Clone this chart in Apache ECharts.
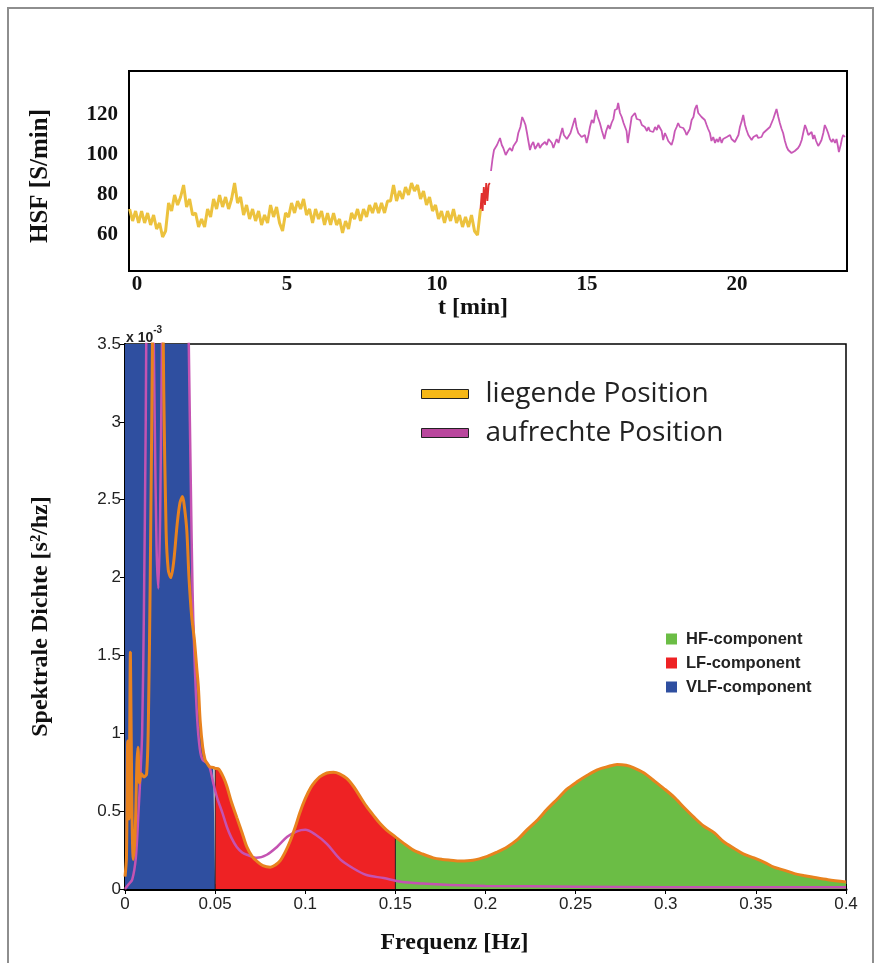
<!DOCTYPE html>
<html>
<head>
<meta charset="utf-8">
<script src="https://cdn.jsdelivr.net/npm/echarts@6/dist/echarts.min.js"></script>
<style>
  html, body { margin: 0; padding: 0; background: #fff; }
  #chart { width: 874px; height: 963px; }
</style>
</head>
<body>
<div id="chart"></div>
<script>
// ---- Heart rate (HSF) over time, upper panel ----
const hsfTicksT = [0, 5, 10, 15, 20];
const hsfTicksY = [60, 80, 100, 120];

// lying position: uniformly sampled, start time and step in minutes
const liegendStart = -0.25;
const liegendStep = 0.1;
const hsfLiegend = [
  73, 67, 72, 66, 72, 66, 71, 65, 70, 63,
  66, 59, 62, 76, 72, 80, 75, 79, 85, 74,
  78, 70, 71, 64, 68, 64, 73, 69, 78, 73,
  80, 74, 79, 73, 78, 86, 76, 79, 70, 75,
  68, 73, 67, 72, 65, 70, 66, 75, 69, 74,
  66, 62, 71, 69, 76, 71, 77, 73, 78, 70,
  73, 66, 73, 68, 72, 65, 71, 65, 71, 65,
  68, 61, 67, 63, 71, 68, 73, 67, 73, 69,
  75, 71, 76, 71, 76, 71, 77, 77, 85, 77,
  82, 78, 84, 80, 86, 82, 85, 78, 82, 75,
  79, 72, 75, 68, 72, 66, 72, 67, 73, 66,
  70, 64, 69, 64, 70, 62, 60, 73
];

// transition while standing up: [t, HSF]
const hsfUebergang = [
  [11.45, 73], [11.49, 81], [11.52, 72], [11.56, 84], [11.6, 75],
  [11.64, 86], [11.68, 77], [11.72, 85], [11.76, 86]
];

// upright position: [t, HSF]
const hsfAufrecht = [
  [11.8, 92], [11.85, 98], [11.9, 102.5], [12.0, 105], [12.05, 104], [12.1, 108.5], [12.16, 105],
  [12.21, 103.5], [12.29, 100], [12.36, 102], [12.43, 103.5], [12.5, 102], [12.55, 104.5], [12.6, 105],
  [12.66, 107], [12.71, 111], [12.78, 114], [12.84, 119], [12.9, 117], [12.95, 115], [13.0, 111],
  [13.04, 107.5], [13.1, 102.5], [13.15, 105], [13.21, 106.5], [13.27, 103], [13.32, 104], [13.38, 106],
  [13.43, 103.5], [13.49, 105], [13.55, 104], [13.6, 106.5], [13.66, 105], [13.72, 108], [13.77, 109],
  [13.83, 106], [13.88, 103.5], [13.94, 106], [13.99, 108], [14.05, 106], [14.1, 109], [14.18, 113.5],
  [14.23, 110], [14.27, 111], [14.33, 108], [14.38, 109], [14.45, 111], [14.51, 114], [14.56, 115],
  [14.6, 118.5], [14.65, 114], [14.71, 111], [14.77, 112], [14.82, 109], [14.88, 108], [14.93, 110],
  [14.99, 106], [15.05, 110], [15.1, 114], [15.16, 117.5], [15.22, 116], [15.3, 122.5], [15.36, 119],
  [15.43, 116], [15.5, 112], [15.58, 108], [15.64, 112], [15.71, 115], [15.76, 113], [15.82, 116],
  [15.88, 118], [15.93, 122.5], [16.0, 123], [16.04, 126], [16.1, 121], [16.16, 119], [16.22, 116],
  [16.27, 114], [16.32, 112], [16.36, 106], [16.42, 112], [16.49, 119], [16.55, 118], [16.6, 121],
  [16.66, 118], [16.72, 119], [16.77, 117.5], [16.83, 115], [16.88, 116], [16.93, 114], [17.0, 112],
  [17.05, 114], [17.1, 112], [17.16, 113], [17.21, 111.5], [17.27, 114], [17.33, 112.5], [17.38, 115],
  [17.43, 116], [17.49, 112], [17.54, 107.5], [17.6, 111], [17.66, 109], [17.71, 107], [17.77, 108],
  [17.82, 105], [17.88, 108], [17.93, 112], [17.99, 114], [18.04, 116], [18.1, 114], [18.16, 115],
  [18.21, 113.5], [18.27, 112], [18.32, 110], [18.38, 109.5], [18.43, 113], [18.49, 117.5], [18.55, 119],
  [18.6, 123], [18.66, 125], [18.71, 121], [18.77, 120], [18.82, 119], [18.88, 118], [18.93, 117.5],
  [18.99, 115], [19.04, 113], [19.1, 111], [19.15, 107], [19.21, 109], [19.27, 106], [19.32, 108],
  [19.38, 106.5], [19.43, 109], [19.49, 106], [19.54, 108], [19.6, 107], [19.66, 109], [19.71, 108],
  [19.77, 110], [19.82, 108], [19.88, 109], [19.93, 106.5], [19.99, 107.5], [20.05, 110], [20.1, 114],
  [20.16, 117], [20.21, 120], [20.27, 115], [20.32, 112.5], [20.38, 110], [20.43, 109], [20.49, 107.5],
  [20.55, 109], [20.6, 108], [20.66, 110], [20.71, 108.5], [20.77, 109.5], [20.82, 109], [20.88, 111],
  [20.93, 110.5], [20.99, 112.5], [21.05, 113], [21.1, 114], [21.16, 115], [21.21, 118], [21.27, 119],
  [21.32, 123], [21.38, 119], [21.43, 116], [21.49, 113], [21.54, 111], [21.6, 107], [21.66, 104],
  [21.71, 102.5], [21.77, 103], [21.82, 101], [21.88, 100], [21.93, 102], [21.99, 101.5], [22.04, 103.5],
  [22.1, 105], [22.16, 107.5], [22.21, 111], [22.27, 115], [22.32, 113], [22.38, 110], [22.43, 109],
  [22.49, 111.5], [22.54, 108], [22.58, 110], [22.64, 107], [22.71, 104.5], [22.77, 106], [22.82, 107.5],
  [22.88, 111], [22.93, 115], [22.99, 113], [23.04, 111], [23.1, 108], [23.16, 106.5], [23.21, 108],
  [23.27, 106], [23.32, 108], [23.36, 105], [23.4, 101.5], [23.46, 105], [23.5, 108], [23.54, 110],
  [23.6, 109]
];

// ---- Power spectral density, lower panel: [frequency Hz, PSD in 1e-3 s^2/Hz] ----
const psdLiegend = [
  [0, 0.08], [0.0008, 0.2], [0.0015, 0.95], [0.0022, 0.45], [0.003, 1.52], [0.0038, 0.55],
  [0.0046, 0.19], [0.0056, 0.35], [0.0066, 0.8], [0.0072, 0.91], [0.008, 0.68], [0.009, 0.74],
  [0.0105, 0.72], [0.012, 0.74], [0.013, 1.1], [0.014, 2.0], [0.015, 3.2], [0.016, 4.2],
  [0.0185, 5.0], [0.0205, 4.2], [0.0215, 3.2], [0.0228, 2.3], [0.024, 2.05], [0.0254, 2.0],
  [0.027, 2.1], [0.029, 2.35], [0.0305, 2.48], [0.0319, 2.52], [0.033, 2.45], [0.0343, 2.3],
  [0.0355, 2.0], [0.037, 1.75], [0.0385, 1.6], [0.0398, 1.42], [0.0407, 1.3], [0.0417, 1.08],
  [0.0431, 0.91], [0.0444, 0.83], [0.0454, 0.81], [0.047, 0.785], [0.049, 0.78], [0.05, 0.775],
  [0.052, 0.77], [0.0545, 0.72], [0.0565, 0.66], [0.059, 0.56], [0.062, 0.46], [0.065, 0.36],
  [0.0676, 0.27], [0.0705, 0.21], [0.073, 0.18], [0.0765, 0.15], [0.0806, 0.14], [0.0835, 0.155],
  [0.086, 0.18], [0.089, 0.24], [0.0917, 0.31], [0.0945, 0.4], [0.097, 0.49], [0.1, 0.58],
  [0.103, 0.65], [0.1055, 0.69], [0.108, 0.72], [0.112, 0.745], [0.1157, 0.75], [0.119, 0.74],
  [0.123, 0.71], [0.127, 0.655], [0.1306, 0.59], [0.134, 0.53], [0.138, 0.47], [0.1415, 0.42],
  [0.145, 0.38], [0.15, 0.335], [0.155, 0.29], [0.16, 0.25], [0.165, 0.225], [0.171, 0.2],
  [0.176, 0.19], [0.1806, 0.185], [0.186, 0.18], [0.193, 0.185], [0.201, 0.21], [0.206, 0.235],
  [0.212, 0.27], [0.218, 0.32], [0.223, 0.38], [0.229, 0.445], [0.234, 0.51], [0.24, 0.58],
  [0.245, 0.64], [0.251, 0.69], [0.2565, 0.73], [0.262, 0.765], [0.2676, 0.785], [0.273, 0.8],
  [0.278, 0.795], [0.282, 0.78], [0.288, 0.745], [0.293, 0.7], [0.299, 0.645], [0.3046, 0.59],
  [0.31, 0.525], [0.3157, 0.46], [0.321, 0.405], [0.327, 0.36], [0.332, 0.305], [0.338, 0.26],
  [0.343, 0.225], [0.349, 0.2], [0.355, 0.17], [0.36, 0.14], [0.366, 0.12], [0.371, 0.1],
  [0.377, 0.085], [0.382, 0.075], [0.39, 0.06], [0.4, 0.045]
];

const psdAufrecht = [
  [0, 0.0], [0.002, 0.03], [0.004, 0.06], [0.006, 0.2], [0.0075, 0.5], [0.0085, 0.72],
  [0.0095, 1.0], [0.0105, 1.8], [0.0115, 3.0], [0.0125, 4.5], [0.0145, 5.5], [0.0155, 4.0],
  [0.0165, 3.0], [0.0175, 2.2], [0.0185, 1.93], [0.0195, 2.4], [0.0205, 3.5], [0.0215, 4.5],
  [0.025, 6.0], [0.032, 5.5], [0.0345, 4.2], [0.0355, 3.4], [0.0365, 2.6], [0.0375, 1.9],
  [0.0385, 1.5], [0.04, 1.1], [0.0415, 0.9], [0.043, 0.83], [0.0455, 0.81], [0.047, 0.78],
  [0.049, 0.68], [0.051, 0.59], [0.054, 0.49], [0.0565, 0.4], [0.059, 0.33], [0.062, 0.27],
  [0.065, 0.235], [0.0676, 0.22], [0.073, 0.2], [0.0787, 0.22], [0.0843, 0.27], [0.09, 0.335],
  [0.0954, 0.37], [0.1, 0.38], [0.1056, 0.35], [0.112, 0.29], [0.1194, 0.19], [0.127, 0.13],
  [0.134, 0.09], [0.1435, 0.07], [0.153, 0.047], [0.165, 0.035], [0.18, 0.026], [0.2, 0.02],
  [0.25, 0.015], [0.3, 0.012], [0.4, 0.012]
];

// upper edge of the VLF shading
const vlfBoundary = [
  [0, 6], [0.0335, 6], [0.0352, 3.5], [0.0365, 2.6], [0.0375, 2.0], [0.0385, 1.65],
  [0.0398, 1.42], [0.0407, 1.3], [0.0417, 1.08], [0.0431, 0.91], [0.0444, 0.83],
  [0.0454, 0.81], [0.047, 0.785], [0.049, 0.78], [0.05, 0.775]
];

const lfRange = [0.05, 0.15];
const hfRange = [0.15, 0.4];

// ---- derived series data ----
const liegendSeries = hsfLiegend.map((v, i) => [liegendStart + i * liegendStep, v]);
const inBand = (range) => psdLiegend.filter(p => p[0] >= range[0] - 1e-9 && p[0] <= range[1] + 1e-9);
const lfBand = inBand(lfRange);
const hfBand = inBand(hfRange);
const bandEdges = [lfRange[0], hfRange[0]].map(f => {
  const p = psdLiegend.find(q => Math.abs(q[0] - f) < 1e-9);
  return [[f, 0], [f, p[1]]];
});

const serif = 'Liberation Serif';
const sans = 'Liberation Sans';

const chart = echarts.init(document.getElementById('chart'), null, { renderer: 'canvas' });

const areaSeries = (name, color, data) => ({
  name, type: 'line', xAxisIndex: 1, yAxisIndex: 1, data,
  color, showSymbol: false, symbol: 'none', silent: true,
  lineStyle: { width: 0 }, areaStyle: { color, opacity: 1 }
});

chart.setOption({
  animation: false,
  backgroundColor: '#fff',
  title: {
    text: '{a|x 10}{b|-3}',
    left: 126, top: 325, padding: 0,
    textStyle: {
      rich: {
        a: { fontFamily: sans, fontSize: 14, color: '#222', verticalAlign: 'bottom', lineHeight: 20 },
        b: { fontFamily: sans, fontSize: 10, color: '#222', verticalAlign: 'top', lineHeight: 20 }
      }
    }
  },
  graphic: [{
    type: 'rect', silent: true, z: -1,
    shape: { x: 8, y: 8, width: 865, height: 990 },
    style: { fill: 'none', stroke: '#8e8e8e', lineWidth: 2 }
  }],
  legend: [{
    orient: 'vertical', left: 421, top: 379, padding: 0,
    data: [
      { name: 'liegende Position', itemStyle: { color: '#f6b817', borderColor: '#222', borderWidth: 1 } },
      { name: 'aufrechte Position', itemStyle: { color: '#b9479d', borderColor: '#222', borderWidth: 1 } }
    ],
    icon: 'rect', itemWidth: 47, itemHeight: 9, itemGap: 9,
    selectedMode: false,
    textStyle: { fontFamily: 'Open Sans', fontSize: 28, color: '#222', lineHeight: 30, padding: [0, 0, 0, 12] }
  }, {
    orient: 'vertical', left: 666, top: 629, padding: 0,
    data: ['HF-component', 'LF-component', 'VLF-component'],
    icon: 'rect', itemWidth: 11, itemHeight: 11, itemGap: 4,
    selectedMode: false,
    textStyle: { fontFamily: sans, fontSize: 16.5, fontWeight: 'bold', color: '#222', lineHeight: 20, padding: [0, 0, 0, 4] }
  }],
  grid: [
    { left: 129, top: 71, width: 718, height: 200, show: true, borderColor: '#000', borderWidth: 2 },
    { left: 125, top: 344, width: 721, height: 545, show: true, borderColor: '#000', borderWidth: 1.5 }
  ],
  xAxis: [{
    gridIndex: 0, type: 'value', min: -0.27, max: 23.67,
    axisLine: { show: false }, axisTick: { show: false }, splitLine: { show: false },
    axisLabel: {
      customValues: hsfTicksT, margin: 3,
      fontFamily: serif, fontWeight: 'bold', fontSize: 21, color: '#111'
    },
    name: 't [min]', nameLocation: 'middle', nameGap: 24,
    nameTextStyle: { fontFamily: serif, fontWeight: 'bold', fontSize: 24, color: '#111', padding: [0, 30, 0, 0] }
  }, {
    gridIndex: 1, type: 'value', min: 0, max: 0.4, interval: 0.05,
    axisLine: { show: true, onZero: false, lineStyle: { color: '#000', width: 3 } },
    axisTick: { show: true, inside: true, length: 5, lineStyle: { color: '#000', width: 1 } },
    splitLine: { show: false },
    axisLabel: { margin: 7, fontFamily: sans, fontSize: 17, color: '#222' },
    name: 'Frequenz [Hz]', nameLocation: 'middle', nameGap: 42,
    nameTextStyle: { fontFamily: serif, fontWeight: 'bold', fontSize: 24, color: '#111', padding: [0, 62, 0, 0] }
  }, {
    gridIndex: 1, type: 'value', position: 'top', min: 0, max: 0.4, interval: 0.05,
    axisLine: { show: true, lineStyle: { color: '#000', width: 1.5 } },
    axisTick: { show: true, inside: true, length: 5, lineStyle: { color: '#000' } },
    axisLabel: { show: false }, splitLine: { show: false }
  }],
  yAxis: [{
    gridIndex: 0, type: 'value', min: 42, max: 142,
    axisLine: { show: false }, axisTick: { show: false }, splitLine: { show: false },
    axisLabel: {
      customValues: hsfTicksY, margin: 11,
      fontFamily: serif, fontWeight: 'bold', fontSize: 21, color: '#111'
    },
    name: 'HSF [S/min]', nameLocation: 'middle', nameGap: 76,
    nameTextStyle: { fontFamily: serif, fontWeight: 'bold', fontSize: 25, color: '#111', padding: [0, 10, 0, 0] }
  }, {
    gridIndex: 1, type: 'value', min: 0, max: 3.5, interval: 0.5,
    axisLine: { show: true, onZero: false, lineStyle: { color: '#000', width: 2 } },
    axisTick: { show: true, inside: true, length: 5, lineStyle: { color: '#000' } },
    splitLine: { show: false },
    axisLabel: { margin: 4, fontFamily: sans, fontSize: 17, color: '#222' },
    name: 'Spektrale Dichte [s²/hz]', nameLocation: 'middle', nameGap: 72,
    nameTextStyle: { fontFamily: serif, fontWeight: 'bold', fontSize: 24, color: '#111' }
  }, {
    gridIndex: 1, type: 'value', position: 'right', min: 0, max: 3.5, interval: 0.5,
    axisLine: { show: true, lineStyle: { color: '#000', width: 1.5 } },
    axisTick: { show: true, inside: true, length: 5, lineStyle: { color: '#000' } },
    axisLabel: { show: false }, splitLine: { show: false }
  }],
  series: [
    {
      name: 'HSF liegend', type: 'line', xAxisIndex: 0, yAxisIndex: 0, data: liegendSeries,
      showSymbol: false, symbol: 'none', silent: true,
      lineStyle: { color: '#ecc23e', width: 3 }
    },
    {
      name: 'HSF Übergang', type: 'line', xAxisIndex: 0, yAxisIndex: 0, data: hsfUebergang,
      showSymbol: false, symbol: 'none', silent: true,
      lineStyle: { color: '#e0302e', width: 1.8 }
    },
    {
      name: 'HSF aufrecht', type: 'line', xAxisIndex: 0, yAxisIndex: 0, data: hsfAufrecht,
      showSymbol: false, symbol: 'none', silent: true,
      lineStyle: { color: '#c858b6', width: 1.8 }
    },
    areaSeries('VLF-component', '#2f4fa0', vlfBoundary),
    areaSeries('LF-component', '#ee2224', lfBand),
    areaSeries('HF-component', '#6bbd45', hfBand),
    ...bandEdges.map((edge, i) => ({
      name: 'Bandgrenze ' + (i + 1), type: 'line', xAxisIndex: 1, yAxisIndex: 1, data: edge,
      showSymbol: false, symbol: 'none', silent: true,
      lineStyle: { color: '#222', width: 1 }
    })),
    {
      name: 'aufrechte Position', type: 'line', xAxisIndex: 1, yAxisIndex: 1, data: psdAufrecht,
      color: '#b9479d', showSymbol: false, symbol: 'none', silent: true, smooth: 0.3,
      lineStyle: { color: '#c453b2', width: 2.5 }
    },
    {
      name: 'liegende Position', type: 'line', xAxisIndex: 1, yAxisIndex: 1, data: psdLiegend,
      color: '#f6b817', showSymbol: false, symbol: 'none', silent: true, smooth: 0.3,
      lineStyle: { color: '#e8821e', width: 3 }
    }
  ]
});
</script>
</body>
</html>
